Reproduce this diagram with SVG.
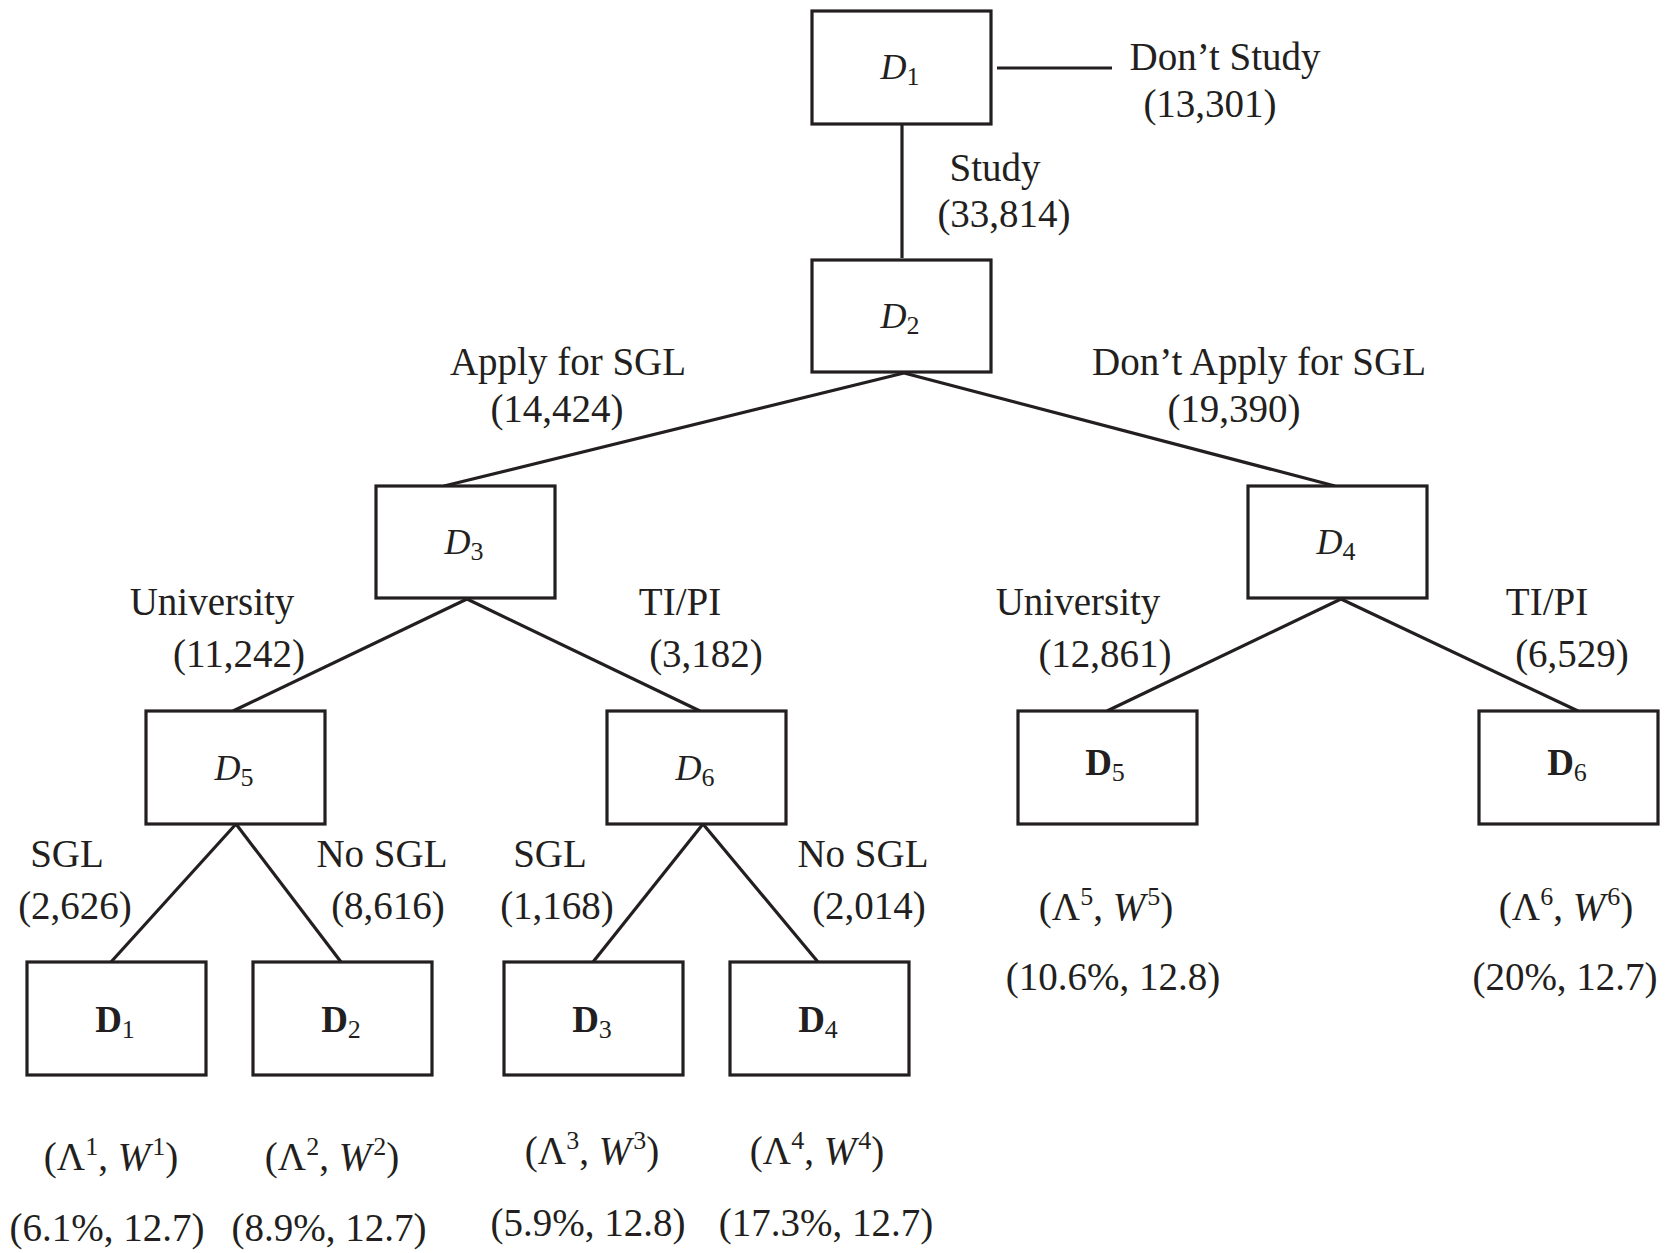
<svg xmlns="http://www.w3.org/2000/svg" width="1671" height="1253" viewBox="0 0 1671 1253">
<style>
.box{fill:#fff;stroke:#231f20;stroke-width:3.2}
.ln{stroke:#231f20;stroke-width:3.2;fill:none}
text{font-family:"Liberation Serif","Times New Roman",serif;fill:#231f20;text-anchor:middle}
.lab{font-size:39px}
.nd{font-size:36px;font-style:italic}
.bd{font-size:37px;font-weight:bold}
.sub{font-size:26px;font-style:normal;font-weight:normal}
.sup{font-size:26px;font-style:normal}
.it{font-style:italic}
</style>
<rect width="1671" height="1253" fill="#fff"/>
<g id="connectors">
<line class="ln" x1="902" y1="124" x2="902" y2="258"/>
<line class="ln" x1="997" y1="68" x2="1112" y2="68"/>
<line class="ln" x1="904" y1="373" x2="444" y2="486"/>
<line class="ln" x1="904" y1="373" x2="1335" y2="486"/>
<line class="ln" x1="467" y1="599" x2="233" y2="711"/>
<line class="ln" x1="467" y1="599" x2="700" y2="711"/>
<line class="ln" x1="1341" y1="599" x2="1107" y2="711"/>
<line class="ln" x1="1341" y1="599" x2="1578" y2="711"/>
<line class="ln" x1="236" y1="824" x2="111" y2="962"/>
<line class="ln" x1="236" y1="824" x2="341" y2="962"/>
<line class="ln" x1="703" y1="824" x2="593" y2="962"/>
<line class="ln" x1="703" y1="824" x2="818" y2="962"/>
</g>
<g id="labels">
<text class="lab" x="1225" y="70">Don’t Study</text>
<text class="lab" x="1210" y="117">(13,301)</text>
<text class="lab" x="995" y="181">Study</text>
<text class="lab" x="1004" y="227">(33,814)</text>
<text class="lab" x="568" y="375">Apply for SGL</text>
<text class="lab" x="557" y="422">(14,424)</text>
<text class="lab" x="1259" y="375">Don’t Apply for SGL</text>
<text class="lab" x="1234" y="422">(19,390)</text>
<text class="lab" x="212" y="615">University</text>
<text class="lab" x="239" y="667">(11,242)</text>
<text class="lab" x="680" y="615">TI/PI</text>
<text class="lab" x="706" y="667">(3,182)</text>
<text class="lab" x="1078" y="615">University</text>
<text class="lab" x="1105" y="667">(12,861)</text>
<text class="lab" x="1547" y="615">TI/PI</text>
<text class="lab" x="1572" y="667">(6,529)</text>
<text class="lab" x="67" y="867">SGL</text>
<text class="lab" x="75" y="919">(2,626)</text>
<text class="lab" x="382" y="867">No SGL</text>
<text class="lab" x="388" y="919">(8,616)</text>
<text class="lab" x="550" y="867">SGL</text>
<text class="lab" x="557" y="919">(1,168)</text>
<text class="lab" x="863" y="867">No SGL</text>
<text class="lab" x="869" y="919">(2,014)</text>
</g>
<g id="n-D1"><rect class="box" x="812" y="11" width="179" height="113"/><text class="nd" x="900" y="79">D<tspan class="sub" dy="6">1</tspan></text></g>
<g id="n-D2"><rect class="box" x="812" y="260" width="179" height="112"/><text class="nd" x="900" y="328">D<tspan class="sub" dy="6">2</tspan></text></g>
<g id="n-D3"><rect class="box" x="376" y="486" width="179" height="112"/><text class="nd" x="464" y="554">D<tspan class="sub" dy="6">3</tspan></text></g>
<g id="n-D4"><rect class="box" x="1248" y="486" width="179" height="112"/><text class="nd" x="1336" y="554">D<tspan class="sub" dy="6">4</tspan></text></g>
<g id="n-D5"><rect class="box" x="146" y="711" width="179" height="113"/><text class="nd" x="234" y="780">D<tspan class="sub" dy="6">5</tspan></text></g>
<g id="n-D6"><rect class="box" x="607" y="711" width="179" height="113"/><text class="nd" x="695" y="780">D<tspan class="sub" dy="6">6</tspan></text></g>
<g id="n-B5"><rect class="box" x="1018" y="711" width="179" height="113"/><text class="bd" x="1105" y="775">D<tspan class="sub" dy="6">5</tspan></text>
<text class="lab" x="1106" y="920">(Λ<tspan class="sup" dy="-15">5</tspan><tspan dy="15">, </tspan><tspan class="it">W</tspan><tspan class="sup" dx="2" dy="-15">5</tspan><tspan dy="15">)</tspan></text>
<text class="lab" x="1113" y="990">(10.6%, 12.8)</text></g>
<g id="n-B6"><rect class="box" x="1479" y="711" width="179" height="113"/><text class="bd" x="1567" y="775">D<tspan class="sub" dy="6">6</tspan></text>
<text class="lab" x="1566" y="920">(Λ<tspan class="sup" dy="-15">6</tspan><tspan dy="15">, </tspan><tspan class="it">W</tspan><tspan class="sup" dx="2" dy="-15">6</tspan><tspan dy="15">)</tspan></text>
<text class="lab" x="1565" y="990">(20%, 12.7)</text></g>
<g id="n-B1"><rect class="box" x="27" y="962" width="179" height="113"/><text class="bd" x="115" y="1032">D<tspan class="sub" dy="6">1</tspan></text>
<text class="lab" x="111" y="1170">(Λ<tspan class="sup" dy="-15">1</tspan><tspan dy="15">, </tspan><tspan class="it">W</tspan><tspan class="sup" dx="2" dy="-15">1</tspan><tspan dy="15">)</tspan></text>
<text class="lab" x="107" y="1241">(6.1%, 12.7)</text></g>
<g id="n-B2"><rect class="box" x="253" y="962" width="179" height="113"/><text class="bd" x="341" y="1032">D<tspan class="sub" dy="6">2</tspan></text>
<text class="lab" x="332" y="1170">(Λ<tspan class="sup" dy="-15">2</tspan><tspan dy="15">, </tspan><tspan class="it">W</tspan><tspan class="sup" dx="2" dy="-15">2</tspan><tspan dy="15">)</tspan></text>
<text class="lab" x="329" y="1241">(8.9%, 12.7)</text></g>
<g id="n-B3"><rect class="box" x="504" y="962" width="179" height="113"/><text class="bd" x="592" y="1032">D<tspan class="sub" dy="6">3</tspan></text>
<text class="lab" x="592" y="1164">(Λ<tspan class="sup" dy="-15">3</tspan><tspan dy="15">, </tspan><tspan class="it">W</tspan><tspan class="sup" dx="2" dy="-15">3</tspan><tspan dy="15">)</tspan></text>
<text class="lab" x="588" y="1236">(5.9%, 12.8)</text></g>
<g id="n-B4"><rect class="box" x="730" y="962" width="179" height="113"/><text class="bd" x="818" y="1032">D<tspan class="sub" dy="6">4</tspan></text>
<text class="lab" x="817" y="1164">(Λ<tspan class="sup" dy="-15">4</tspan><tspan dy="15">, </tspan><tspan class="it">W</tspan><tspan class="sup" dx="2" dy="-15">4</tspan><tspan dy="15">)</tspan></text>
<text class="lab" x="826" y="1236">(17.3%, 12.7)</text></g>
</svg>
